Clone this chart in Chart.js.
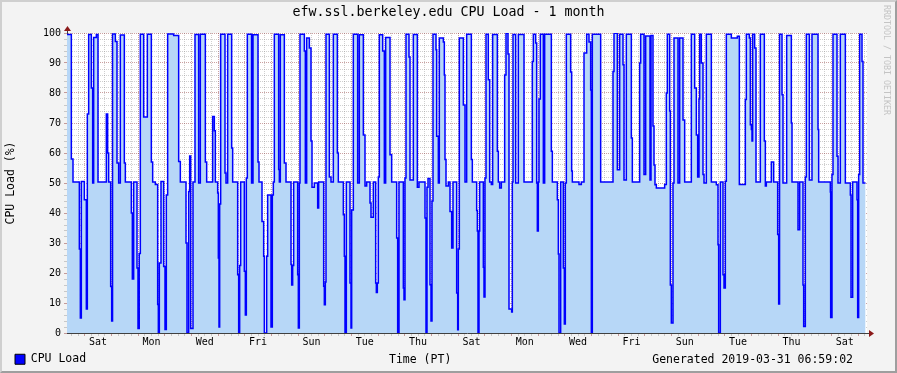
<!DOCTYPE html>
<html lang="en">
<head>
    <meta charset="UTF-8">
    <title>efw.ssl.berkeley.edu CPU Load - 1 month</title>
    <script src="https://cdn.jsdelivr.net/npm/chart.js@4.4.1/dist/chart.umd.min.js"></script>
    <style>
        html, body { margin: 0; padding: 0; background: #f3f3f3; }
        .frame { position: relative; width: 897px; height: 373px; overflow: hidden; }
        .frame canvas { position: absolute; left: 0; top: 0; }
        .shade {
            position: absolute; left: 0; top: 0; width: 893px; height: 369px;
            border: 2px solid; border-color: #cfcfcf #9e9e9e #9e9e9e #cfcfcf;
            pointer-events: none;
        }
        .note {
            position: absolute; font-family: "DejaVu Sans Mono", monospace;
            font-size: 11.5px; line-height: 14px; color: #000; white-space: pre;
        }
        #xTitle { left: 389px; top: 352px; }
        #generated { right: 44px; top: 352px; }
        #watermark { left: 882px; top: 5px; writing-mode: vertical-rl; font-size: 8.3px; line-height: 10px; color: #c4c4c4; }
    </style>
</head>
<body>
    <div class="frame">
        <canvas id="cpuChart" width="897" height="373"></canvas>
        <div class="note" id="xTitle">Time (PT)</div>
        <div class="note" id="generated">Generated 2019-03-31 06:59:02</div>
        <div class="note" id="watermark">RRDTOOL / TOBI OETIKER</div>
        <div class="shade"></div>
    </div>

    <script>
        // hours since the start of the month window, and CPU load (%) from that hour on
        const hours = [
            0.0, 3.9, 5.4, 11.1, 12.0, 12.9, 15.6, 17.4, 18.3, 19.5,
            21.9, 23.1, 24.0, 26.4, 27.9, 35.4, 36.6, 37.5, 39.3, 40.2,
            41.0, 43.5, 45.0, 46.5, 48.0, 51.6, 52.5, 57.9, 58.8, 60.0,
            63.0, 63.9, 65.0, 66.0, 69.0, 72.3, 75.9, 77.1, 79.5, 81.6,
            82.2, 83.1, 84.6, 87.0, 88.2, 89.4, 90.6, 96.0, 100.5, 102.0,
            107.1, 108.0, 109.5, 110.4, 111.3, 113.4, 115.2,
            118.5, 120.0, 124.5, 125.7, 131.1, 132.6, 133.5, 135.6, 136.2, 136.8,
            137.4, 138.3, 142.2, 143.1, 144.6, 148.2, 149.1, 153.6, 154.5, 155.4,
            156.3, 159.6, 160.5, 161.4, 162.3, 166.1, 167.4, 171.9, 172.8, 175.5,
            177.0, 177.6, 179.7, 180.6, 183.6, 184.8, 185.7, 186.6, 190.5, 191.1,
            192.0, 195.6, 197.1, 201.6, 202.2, 203.1, 204.0, 207.6, 208.2, 209.1,
            209.7, 213.6, 214.5, 215.7, 218.1, 219.6, 220.5, 222.6, 225.6, 226.5,
            231.0, 231.6, 232.5, 233.1, 236.1, 237.6,
            239.7, 243.3, 244.2, 248.7, 249.6, 250.2, 251.4, 254.7, 255.6, 256.2,
            257.7, 261.6, 263.1, 266.7, 268.2, 269.7, 272.7, 273.6, 275.7, 277.8,
            278.4, 279.3, 280.2, 281.1, 284.1, 285.6, 286.8, 290.7, 292.2, 296.7,
            297.6, 298.8, 302.7, 303.3, 304.2, 305.1, 307.8, 308.7, 311.7, 315.3,
            316.8, 322.2, 323.1, 324.0, 324.9, 326.7, 327.6, 328.5, 329.4, 332.1,
            332.7, 334.2, 335.1, 338.7, 339.6, 340.2, 341.1, 343.2, 344.7, 346.2,
            347.4, 350.7, 351.6, 352.2, 353.1, 356.7, 358.2,
            359.7, 363.9, 364.8, 368.7, 369.3, 369.9, 370.8, 371.4, 374.7, 375.3,
            376.2, 377.1, 379.2, 380.4, 381.9, 383.1, 387.3, 388.2, 389.4, 390.9,
            393.9, 395.1, 396.9, 397.8, 400.2, 400.8, 401.4, 403.8, 406.2, 411.3,
            418.8, 419.7, 421.8, 422.7, 423.3, 424.2, 424.8, 426.0, 428.7, 429.9,
            435.9, 436.8, 441.3, 442.2, 442.8, 444.3, 446.7, 447.6, 448.5, 449.4,
            453.3, 454.2, 454.8, 460.8, 462.9, 465.3, 467.7, 469.8, 471.3, 471.9,
            472.8,
            480.3, 491.4, 492.3, 495.3, 497.4, 500.4, 501.3, 503.4, 507.9, 508.8,
            515.4, 516.3, 519.3, 520.8, 524.7, 525.6, 527.4, 528.3, 529.2, 530.4,
            537.9, 539.4, 540.3, 542.4, 543.0, 543.9, 545.4, 546.3, 549.9, 551.4,
            554.4, 555.9, 561.9, 564.9, 566.4, 567.6, 568.8, 569.4, 570.9, 572.4,
            573.3, 575.4, 579.9, 584.4, 585.9, 586.5, 588.0, 590.4, 591.3, 592.5,
            593.4, 597.9,
            603.3, 605.1, 610.5, 611.4, 614.1, 615.0, 615.9, 616.5, 617.1, 618.9,
            620.1, 624.0, 627.6, 628.5, 629.4, 633.9, 636.0, 639.6, 640.5, 641.3,
            643.5, 644.4, 647.7, 651.9, 652.5, 657.9, 659.4, 662.4, 663.0, 664.5,
            665.4, 668.1, 670.5, 675.9, 676.5, 687.0, 687.3, 688.5, 689.4, 693.0,
            693.9, 696.0, 700.5, 705.0, 705.6, 707.1, 711.0, 711.6, 712.5, 713.4,
            715.5, 716.4, 718.7
        ];
        const load = [
            99.5, 58, 50.3, 28, 5, 50.5, 44.4, 8, 73, 99.5,
            81.7, 50, 98.5, 99.5, 50.3, 73, 60, 50.3, 15.5, 4,
            99.7, 97.2, 56.7, 50, 99.3, 56.7, 50.3, 40, 18, 50.3,
            21.7, 1.5, 26.5, 99.6, 72, 99.6, 57, 50.3, 49.5, 9.5,
            0, 23.3, 50.5, 22.2, 1.2, 46, 99.7, 99.2, 57.2, 50.3,
            30, 0, 47.2, 59, 1.5, 50.3, 99.5,
            50, 99.6, 57, 50.3, 72.2, 67.4, 50.3, 46.7, 25, 2,
            43, 99.6, 53.3, 50, 99.6, 61.7, 50.3, 19.4, 0, 22.5,
            50.3, 20.6, 6, 51.7, 99.6, 50, 99.4, 57, 50.3, 37.2,
            25.6, 0, 25.6, 46, 2, 46, 50.3, 99.6, 54.5, 50.3,
            99.4, 56.7, 50.3, 22.8, 16, 22.5, 50.3, 19.4, 1.7, 50,
            99.6, 94, 50, 98.3, 95, 64, 48.6, 50, 41.7, 50.3,
            15.6, 9.4, 17, 99.6, 52, 50.3,
            99.6, 60, 50.3, 39.4, 25.6, 0, 50.3, 16.7, 1.7, 41,
            99.6, 50, 99.4, 66, 49, 50.3, 43.3, 38.6, 50.3, 16.7,
            13.5, 16.7, 52, 99.4, 94, 50, 98.5, 59.4, 50.3, 31.7,
            0, 50.3, 15, 11.1, 51.7, 99.6, 92, 51, 99.5, 48.6,
            50.3, 38.3, 0, 48.6, 51.5, 16.1, 4, 44, 99.6, 94.4,
            65.6, 50, 98.3, 97, 86, 57.8, 49, 50.3, 40.5, 28.3,
            50.3, 13.3, 1.1, 28, 98.3, 76, 50.3,
            99.6, 57.8, 50.3, 40.8, 34, 0, 34, 50.3, 21.9, 12,
            51.7, 99.6, 84.4, 50.3, 49.5, 99.5, 60.6, 50.3, 48.3, 50.3,
            86, 99.9, 93, 8, 7, 50.3, 99.5, 50, 99.5, 50.3,
            90.5, 99.6, 96.7, 50, 34, 50.3, 78, 99.6, 50, 99.6,
            60.6, 50.3, 44.4, 26.3, 0, 50.3, 21.7, 3, 50, 99.6,
            87, 54, 50.3, 49.5, 50.3, 93.3, 99.6, 97, 81, 0,
            99.6,
            50.3, 87.2, 99.9, 54.4, 99.6, 89.4, 51, 99.6, 65, 50.3,
            90, 99.6, 52.8, 99, 51, 99.2, 69, 56, 49.4, 48.3,
            49.5, 80, 99.6, 74, 16, 3.3, 50, 98.3, 50, 98.3,
            71, 50.3, 99.6, 81.7, 66, 52, 78, 99.6, 90, 52.8,
            50, 99.6, 50.3, 49.4, 29.4, 0, 50.3, 19.4, 15, 50.6,
            99.6, 98.3,
            98.9, 49.5, 77.8, 99.6, 98.3, 69.4, 67.8, 64, 99.6, 95,
            50.3, 99.6, 64, 49, 50.3, 57, 50.3, 32.8, 9.7, 99.6,
            79.4, 50, 99.2, 70, 50.3, 34.4, 50.3, 16, 2.2, 52,
            99.6, 51, 99.6, 67.8, 50.3, 47, 5.2, 52.8, 99.6, 58.9,
            50, 99.6, 50, 46, 11.9, 50.3, 44.4, 5.2, 52.8, 99.6,
            90.5, 50, 50
        ];

        // day labels sit at noon, every second day
        const dayNames = ['Sat', 'Mon', 'Wed', 'Fri', 'Sun', 'Tue', 'Thu', 'Sat',
                          'Mon', 'Wed', 'Fri', 'Sun', 'Tue', 'Thu', 'Sat'];
        const dayTicks = [28, 76, 124, 172, 220, 268, 316, 364, 412, 460, 508, 556, 604, 652, 700];

        const TOTAL_HOURS = 720;
        const FIRST_MIDNIGHT = 16;

        const MAJOR_GRID = 'rgba(130, 30, 30, 0.42)';
        const MINOR_GRID = 'rgba(140, 140, 140, 0.42)';
        const AXIS_COLOR = '#404040';

        // 6-hour grid, midnights get the major colour
        const gridHours = [];
        for (let h = FIRST_MIDNIGHT % 6; h <= TOTAL_HOURS; h += 6) gridHours.push(h);
        const yTicks = [];
        for (let v = 0; v <= 100; v += 2) yTicks.push(v);

        Chart.defaults.font.family = "'DejaVu Sans Mono', monospace";
        Chart.defaults.color = '#000';

        const plotBackground = {
            id: 'plotBackground',
            beforeDraw(chart) {
                const { ctx, chartArea: a } = chart;
                ctx.save();
                ctx.fillStyle = '#ffffff';
                ctx.fillRect(a.left, a.top, a.right - a.left, a.bottom - a.top);
                ctx.restore();
            }
        };

        const axisArrows = {
            id: 'axisArrows',
            afterDraw(chart) {
                const { ctx, chartArea: a } = chart;
                const x0 = Math.round(a.left) + 0.5;
                const y0 = Math.round(a.bottom) + 0.5;
                ctx.save();
                ctx.strokeStyle = AXIS_COLOR;
                ctx.lineWidth = 1;
                ctx.beginPath();
                ctx.moveTo(x0, a.top); ctx.lineTo(x0, a.top - 3);
                ctx.moveTo(a.right, y0); ctx.lineTo(a.right + 3, y0);
                ctx.stroke();
                ctx.fillStyle = '#8b1a1a';
                ctx.beginPath();
                ctx.moveTo(x0 - 3.5, a.top - 2);
                ctx.lineTo(x0 + 3.5, a.top - 2);
                ctx.lineTo(x0, a.top - 7);
                ctx.closePath();
                ctx.fill();
                ctx.beginPath();
                ctx.moveTo(a.right + 2, y0 - 3.5);
                ctx.lineTo(a.right + 2, y0 + 3.5);
                ctx.lineTo(a.right + 7, y0);
                ctx.closePath();
                ctx.fill();
                ctx.restore();
            }
        };

        const points = hours.map((h, i) => ({ x: h, y: load[i] }));

        new Chart(document.getElementById('cpuChart'), {
            type: 'line',
            data: {
                datasets: [{
                    label: 'CPU Load',
                    data: points,
                    stepped: true,
                    fill: 'origin',
                    borderColor: '#0000ff',
                    backgroundColor: '#b7d7f7',
                    borderWidth: 1.5,
                    pointRadius: 0,
                    tension: 0,
                    xAxisID: 'x',
                    yAxisID: 'y'
                }]
            },
            options: {
                responsive: false,
                animation: false,
                events: [],
                layout: { padding: { left: 9.5, right: 9.5, top: 0, bottom: -2 } },
                plugins: {
                    title: {
                        display: true,
                        text: 'efw.ssl.berkeley.edu CPU Load - 1 month',
                        color: '#000',
                        font: { size: 13.3, weight: 'normal', lineHeight: '16px' },
                        padding: { top: 5, bottom: 12 }
                    },
                    legend: {
                        position: 'bottom',
                        align: 'start',
                        labels: {
                            boxWidth: 10,
                            boxHeight: 10,
                            padding: 5.5,
                            color: '#000',
                            font: { size: 11.5 },
                            generateLabels: chart => [{
                                text: chart.data.datasets[0].label,
                                fillStyle: '#0000ff',
                                strokeStyle: '#000000',
                                lineWidth: 1,
                                hidden: false,
                                datasetIndex: 0
                            }]
                        }
                    },
                    tooltip: { enabled: false }
                },
                scales: {
                    x: {
                        type: 'linear',
                        position: 'bottom',
                        min: 0,
                        max: TOTAL_HOURS,
                        weight: 0,
                        z: 1,
                        afterBuildTicks: s => { s.ticks = gridHours.map(v => ({ value: v })); },
                        afterFit: s => { s.height = 3; },
                        ticks: { display: false },
                        grid: {
                            color: c => (c.tick && (c.tick.value - FIRST_MIDNIGHT) % 24 === 0) ? MAJOR_GRID : MINOR_GRID,
                            tickLength: 3
                        },
                        border: { display: true, color: AXIS_COLOR, dash: [1, 1] }
                    },
                    xl: {
                        type: 'linear',
                        axis: 'x',
                        position: 'bottom',
                        min: 0,
                        max: TOTAL_HOURS,
                        weight: 1,
                        afterBuildTicks: s => { s.ticks = dayTicks.map(v => ({ value: v })); },
                        afterFit: s => { s.height = 12; },
                        ticks: {
                            callback: (v, i) => dayNames[i],
                            autoSkip: false,
                            maxRotation: 0,
                            padding: 0.5,
                            font: { size: 10 }
                        },
                        grid: { display: false, drawTicks: false },
                        border: { display: false }
                    },
                    y: {
                        type: 'linear',
                        position: 'left',
                        min: 0,
                        max: 100,
                        z: 1,
                        afterBuildTicks: s => { s.ticks = yTicks.map(v => ({ value: v })); },
                        afterFit: s => { s.width = 57.5; },
                        ticks: {
                            autoSkip: false,
                            padding: 3,
                            font: { size: 10 },
                            callback: v => (v % 10 === 0 ? String(v) : '')
                        },
                        grid: {
                            color: c => (c.tick && c.tick.value % 10 === 0) ? MAJOR_GRID : MINOR_GRID,
                            tickLength: 3
                        },
                        border: { display: true, color: AXIS_COLOR, dash: [1, 1] },
                        title: {
                            display: true,
                            text: 'CPU Load (%)',
                            font: { size: 11.5 },
                            padding: { top: -5.4, bottom: 0 }
                        }
                    },
                    pad: {
                        type: 'linear',
                        axis: 'y',
                        position: 'right',
                        afterFit: s => { s.width = 20.5; },
                        ticks: { display: false },
                        grid: { display: false },
                        border: { display: false }
                    }
                }
            },
            plugins: [plotBackground, axisArrows]
        });
    </script>
</body>
</html>
